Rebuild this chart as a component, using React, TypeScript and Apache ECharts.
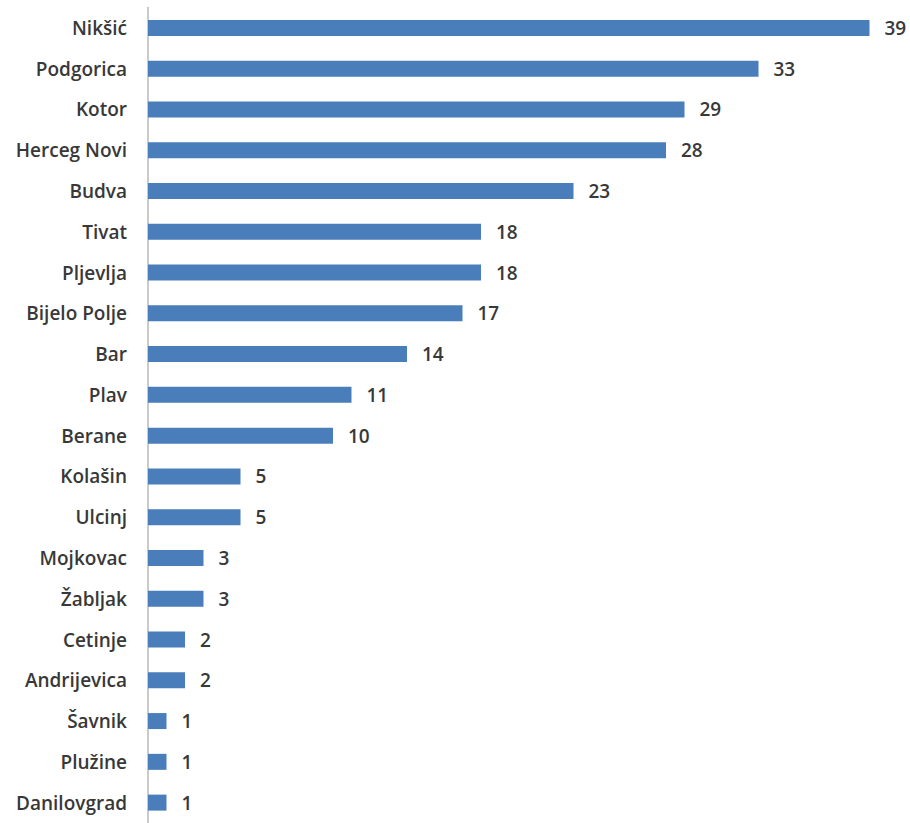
import React, { useEffect, useRef } from "react";
import * as echarts from "echarts";

const categories = [
  "Nikšić", "Podgorica", "Kotor", "Herceg Novi", "Budva", "Tivat", "Pljevlja",
  "Bijelo Polje", "Bar", "Plav", "Berane", "Kolašin", "Ulcinj", "Mojkovac",
  "Žabljak", "Cetinje", "Andrijevica", "Šavnik", "Plužine", "Danilovgrad",
];
const values = [39, 33, 29, 28, 23, 18, 18, 17, 14, 11, 10, 5, 5, 3, 3, 2, 2, 1, 1, 1];

export default function App() {
  const ref = useRef<HTMLDivElement>(null);
  useEffect(() => {
    document.body.style.margin = "0";
    const chart = echarts.init(ref.current!, null, { renderer: "svg" });
    chart.setOption({
      animation: false,
      backgroundColor: "#ffffff",
      grid: { left: 148, top: 7.5, width: 740, height: 820, containLabel: false },
      xAxis: {
        type: "value",
        min: 0,
        max: 40,
        show: false,
      },
      yAxis: {
        type: "category",
        data: categories,
        inverse: true,
        axisLine: { show: true, lineStyle: { color: "#b8b8b8", width: 1.5 } },
        axisTick: { show: false },
        axisLabel: {
          margin: 21,
          color: "#383838",
          fontFamily: "Open Sans",
          fontSize: 19,
          fontWeight: 600,
        },
      },
      series: [
        {
          type: "bar",
          data: values,
          barWidth: 16,
          itemStyle: { color: "#4a7ebb" },
          label: {
            show: true,
            position: "right",
            distance: 15,
            color: "#383838",
            fontFamily: "Open Sans",
            fontSize: 19,
            fontWeight: 600,
          },
        },
      ],
    });
    return () => chart.dispose();
  }, []);
  return <div ref={ref} style={{ width: 910, height: 823 }} />;
}
